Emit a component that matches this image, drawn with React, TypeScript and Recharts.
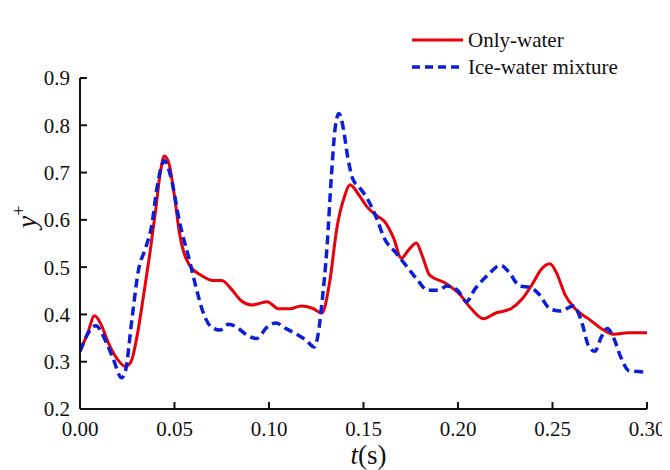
import React from 'react';
import { LineChart, Line, XAxis, YAxis, Legend } from 'recharts';

const onlyWaterT = [0, 0.004, 0.0077, 0.011, 0.015, 0.019, 0.024, 0.027, 0.03, 0.034, 0.037, 0.04, 0.0425, 0.0446, 0.047, 0.05, 0.0526, 0.055, 0.058, 0.064, 0.07, 0.075, 0.08, 0.085, 0.091, 0.099, 0.105, 0.111, 0.117, 0.123, 0.128, 0.132, 0.136, 0.14, 0.1428, 0.148, 0.152, 0.157, 0.161, 0.166, 0.17, 0.174, 0.178, 0.181, 0.185, 0.193, 0.201, 0.207, 0.2135, 0.22, 0.228, 0.234, 0.2396, 0.244, 0.2486, 0.252, 0.2566, 0.262, 0.27, 0.277, 0.2825, 0.29, 0.3];
const onlyWaterY = [0.322, 0.36, 0.397, 0.38, 0.34, 0.31, 0.29, 0.3, 0.35, 0.45, 0.53, 0.62, 0.7, 0.735, 0.72, 0.65, 0.573, 0.53, 0.504, 0.483, 0.472, 0.472, 0.454, 0.43, 0.42, 0.427, 0.412, 0.412, 0.418, 0.413, 0.403, 0.466, 0.585, 0.65, 0.674, 0.65, 0.627, 0.609, 0.597, 0.561, 0.519, 0.537, 0.551, 0.525, 0.483, 0.467, 0.442, 0.412, 0.391, 0.403, 0.412, 0.433, 0.466, 0.495, 0.507, 0.489, 0.442, 0.412, 0.388, 0.367, 0.358, 0.361, 0.361];

const iceWaterT = [0, 0.006, 0.0084, 0.014, 0.0175, 0.022, 0.024, 0.0276, 0.031, 0.0344, 0.0378, 0.041, 0.0446, 0.048, 0.0526, 0.058, 0.0616, 0.065, 0.0696, 0.074, 0.0786, 0.083, 0.0877, 0.0934, 0.099, 0.1036, 0.109, 0.116, 0.1194, 0.124, 0.126, 0.128, 0.1307, 0.133, 0.135, 0.137, 0.1393, 0.1416, 0.1444, 0.148, 0.152, 0.157, 0.161, 0.167, 0.173, 0.1787, 0.184, 0.1897, 0.194, 0.1999, 0.2044, 0.209, 0.2157, 0.2225, 0.227, 0.2327, 0.2384, 0.243, 0.2486, 0.2543, 0.261, 0.2656, 0.269, 0.2724, 0.2758, 0.279, 0.2825, 0.286, 0.2905, 0.3];
const iceWaterY = [0.322, 0.37, 0.376, 0.34, 0.307, 0.266, 0.28, 0.394, 0.495, 0.537, 0.585, 0.674, 0.725, 0.692, 0.597, 0.513, 0.454, 0.406, 0.373, 0.367, 0.379, 0.373, 0.358, 0.349, 0.373, 0.382, 0.37, 0.355, 0.346, 0.331, 0.358, 0.424, 0.543, 0.692, 0.794, 0.825, 0.794, 0.734, 0.686, 0.668, 0.645, 0.603, 0.561, 0.531, 0.501, 0.472, 0.451, 0.451, 0.46, 0.451, 0.427, 0.454, 0.483, 0.504, 0.489, 0.46, 0.457, 0.442, 0.412, 0.407, 0.418, 0.382, 0.334, 0.322, 0.352, 0.37, 0.349, 0.311, 0.281, 0.278];

const xTicks = [0, 0.05, 0.1, 0.15, 0.2, 0.25, 0.3];
const yTicks = [0.2, 0.3, 0.4, 0.5, 0.6, 0.7, 0.8, 0.9];

const onlyWater = onlyWaterT.map((t, i) => ({ t, y: onlyWaterY[i] }));
const iceWater = iceWaterT.map((t, i) => ({ t, y: iceWaterY[i] }));

const FONT = "'Liberation Serif', 'Times New Roman', serif";
const RED = '#e8000b';
const BLUE = '#0a1fd6';

// force the serif face on every text of the chart
const css = `#root text, #root tspan, #root .recharts-wrapper text, #root .recharts-surface text,
#root .recharts-text, #root .recharts-cartesian-axis-tick-value, #root .recharts-label {
  font-family: ${FONT} !important;
}`;

const LegendBox = () => (
  <svg width={250} height={56}>
    <line x1={0} y1={12} x2={51} y2={12} stroke={RED} strokeWidth={3} />
    <text x={56} y={19} fontSize={21} fill="#111" fontFamily={FONT}>Only-water</text>
    <line x1={0} y1={39} x2={51} y2={39} stroke={BLUE} strokeWidth={3.5} strokeDasharray="8 5" />
    <text x={56} y={46} fontSize={21} fill="#111" fontFamily={FONT}>Ice-water mixture</text>
  </svg>
);

const XLabel = ({ viewBox }: any) => (
  <text x={viewBox.x + viewBox.width / 2 + 5} y={456} textAnchor="middle" fontSize={27} fill="#111" fontFamily={FONT}>
    <tspan fontStyle="italic">t</tspan>(s)
  </text>
);

const YLabel = () => {
  const cx = 28;
  const cy = 209;
  return (
    <text x={cx} y={cy} transform={`rotate(-90 ${cx} ${cy})`} textAnchor="middle" fontSize={28} fill="#111" fontFamily={FONT}>
      <tspan fontStyle="italic">y</tspan>
      <tspan dy={-11} fontSize={18}>+</tspan>
    </text>
  );
};

export default function App() {
  return (
    <div style={{ fontFamily: FONT }}>
      <style>{css}</style>
      <LineChart width={662} height={462} margin={{ top: 10, right: 23, left: 12, bottom: 0 }} style={{ fontFamily: FONT }}>
        <XAxis
          dataKey="t"
          type="number"
          domain={[0, 0.3]}
          ticks={xTicks}
          tickFormatter={(v: number) => v.toFixed(2)}
          height={61}
          tickSize={-7}
          tickMargin={19}
          allowDataOverflow
          axisLine={{ stroke: '#111', strokeWidth: 2 }}
          tickLine={{ stroke: '#111', strokeWidth: 2 }}
          tick={{ fill: '#111', fontSize: 21, fontFamily: FONT }}
          label={<XLabel />}
        />
        <XAxis xAxisId="top" orientation="top" type="number" domain={[0, 0.3]} height={0} tick={false} tickLine={false} axisLine={{ stroke: '#111', strokeWidth: 2 }} />
        <YAxis
          type="number"
          domain={[0.2, 0.9]}
          ticks={yTicks}
          tickFormatter={(v: number) => v.toFixed(1)}
          width={60}
          tickSize={-7}
          tickMargin={17}
          allowDataOverflow
          axisLine={{ stroke: '#111', strokeWidth: 2 }}
          tickLine={{ stroke: '#111', strokeWidth: 2 }}
          tick={{ fill: '#111', fontSize: 21, fontFamily: FONT }}
          label={<YLabel />}
        />
        <YAxis yAxisId="right" orientation="right" type="number" domain={[0.2, 0.9]} width={0} tick={false} tickLine={false} axisLine={{ stroke: '#111', strokeWidth: 2 }} />
        <Legend
          verticalAlign="top"
          align="left"
          content={() => <LegendBox />}
          wrapperStyle={{ position: 'absolute', top: 20, left: 404, width: 250 }}
        />
        <Line data={onlyWater} dataKey="y" type="monotone" stroke={RED} strokeWidth={3} dot={false} isAnimationActive={false} />
        <Line data={iceWater} dataKey="y" type="monotone" stroke={BLUE} strokeWidth={3.5} strokeDasharray="9 5" dot={false} isAnimationActive={false} />
      </LineChart>
    </div>
  );
}
